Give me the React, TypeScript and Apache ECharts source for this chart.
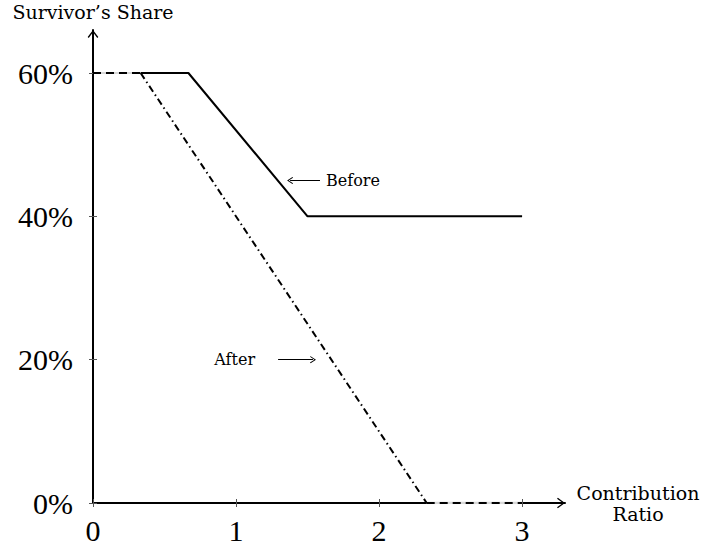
import { useEffect, useRef } from "react";
import * as echarts from "echarts";

// values (x: contribution ratio, y: survivor's share in %)
const xTicks = [0, 1, 2, 3];
const yTicks = [0, 20, 40, 60];
const sharedStart = [[0, 60], [0.333, 60]];
const beforeLine = [[0.333, 60], [0.667, 60], [1.5, 40], [3, 40]];
const afterLine = [[0.333, 60], [2.333, 0]];
const afterTail = [[2.333, 0], [3, 0]];
const beforeArrow = [[1.587, 45], [1.378, 45]];
const afterArrow = [[1.294, 20], [1.538, 20]];

const X_MAX = 3.3;
const Y_MAX = 66;

const ARROW = "path://M6,0 L12,8 L10.8,9 L6,2.4 L1.2,9 L0,8 Z";
const TICK_FONT = "Liberation Serif";
const TEXT_FONT = "DejaVu Serif";

export default function App() {
  const chartRef = useRef<HTMLDivElement>(null);

  useEffect(() => {
    document.body.style.margin = "0";
    if (!chartRef.current) return;
    const chart = echarts.init(chartRef.current, null, { renderer: "svg" });

    const axisBase = { min: 0, splitLine: { show: false } };
    const tickLine = { color: "#555", width: 1 };

    const option: echarts.EChartsOption = {
      animation: false,
      backgroundColor: "#fff",
      grid: { left: 93, right: 140, top: 30, bottom: 45, outerBoundsMode: "none" } as any,
      xAxis: [
        {
          ...axisBase,
          type: "value",
          max: X_MAX,
          name: "Contribution\nRatio",
          nameLocation: "end",
          nameGap: 73,
          nameTextStyle: { fontFamily: TEXT_FONT, fontSize: 19, color: "#000", align: "center", lineHeight: 21 },
          axisLine: {
            lineStyle: { color: "#000", width: 2 },
            symbol: ["none", ARROW],
            symbolSize: [11, 8],
            symbolOffset: [0, -4],
          },
          axisTick: { show: true, length: 4, lineStyle: tickLine, customValues: xTicks } as any,
          axisLabel: {
            customValues: xTicks,
            margin: 12,
            fontFamily: TICK_FONT,
            fontSize: 30,
            lineHeight: 30,
            color: "#000",
          } as any,
        },
        {
          ...axisBase,
          type: "value",
          max: X_MAX,
          position: "bottom",
          axisLine: { show: false },
          axisTick: { show: true, inside: true, length: 4, lineStyle: tickLine, customValues: xTicks } as any,
          axisLabel: { show: false },
        },
      ],
      yAxis: [
        {
          ...axisBase,
          type: "value",
          max: Y_MAX,
          name: "Survivor’s Share",
          nameLocation: "end",
          nameGap: 9,
          nameTextStyle: { fontFamily: TEXT_FONT, fontSize: 19, color: "#000", align: "center", lineHeight: 19 },
          axisLine: {
            lineStyle: { color: "#000", width: 2 },
            symbol: ["none", ARROW],
            symbolSize: [11, 8],
            symbolOffset: [0, -4],
          },
          axisTick: { show: true, length: 4, lineStyle: tickLine, customValues: yTicks } as any,
          axisLabel: {
            customValues: yTicks,
            margin: 20,
            fontFamily: TICK_FONT,
            fontSize: 30,
            color: "#000",
            formatter: (v: number) => `${v}%`,
          } as any,
        },
        {
          ...axisBase,
          type: "value",
          max: Y_MAX,
          position: "left",
          axisLine: { show: false },
          axisTick: { show: true, inside: true, length: 4, lineStyle: tickLine, customValues: yTicks } as any,
          axisLabel: { show: false },
        },
      ],
      series: [
        {
          type: "line",
          data: sharedStart,
          symbol: "none",
          lineStyle: { color: "#d9d9d9", width: 2 },
          z: 3,
        },
        {
          type: "line",
          data: sharedStart,
          symbol: "none",
          lineStyle: { color: "#000", width: 2, type: [8, 5] },
          z: 4,
        },
        {
          type: "line",
          data: afterTail,
          symbol: "none",
          lineStyle: { color: "#d9d9d9", width: 2.5 },
          z: 3,
        },
        {
          type: "line",
          data: afterTail,
          symbol: "none",
          lineStyle: { color: "#000", width: 2, type: [8, 5] },
          z: 4,
        },
        {
          name: "Before",
          type: "line",
          data: beforeLine,
          symbol: "none",
          lineStyle: { color: "#000", width: 2 },
          z: 4,
          markLine: {
            silent: true,
            symbol: ["none", ARROW],
            symbolSize: [7, 6],
            lineStyle: { color: "#000", width: 1, type: "solid" },
            label: {
              show: true,
              position: "start",
              distance: 6,
              formatter: "Before",
              fontFamily: TEXT_FONT,
              fontSize: 16,
              color: "#000",
            },
            data: [[{ coord: beforeArrow[0] }, { coord: beforeArrow[1] }]] as any,
          },
        },
        {
          name: "After",
          type: "line",
          data: afterLine,
          symbol: "none",
          lineStyle: { color: "#000", width: 2, type: [7, 3.5, 1.5, 3.5] },
          z: 4,
          markLine: {
            silent: true,
            symbol: ["none", ARROW],
            symbolSize: [7, 6],
            lineStyle: { color: "#000", width: 1, type: "solid" },
            label: {
              show: true,
              position: "start",
              distance: 23,
              formatter: "After",
              fontFamily: TEXT_FONT,
              fontSize: 16,
              color: "#000",
            },
            data: [[{ coord: afterArrow[0] }, { coord: afterArrow[1] }]] as any,
          },
        },
      ],
    };

    chart.setOption(option);
    return () => chart.dispose();
  }, []);

  return <div ref={chartRef} style={{ width: 705, height: 548 }} />;
}
